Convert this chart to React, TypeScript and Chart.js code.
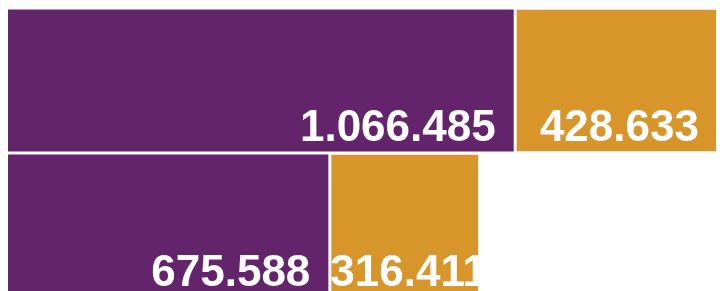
import React, { useEffect, useRef } from "react";
import { Chart, registerables } from "chart.js";

Chart.register(...registerables);

const categories = ["A", "B"];
const purpleValues = [1066485, 675588];
const orangeValues = [428633, 316411];
const purpleColor = "#64246B";
const orangeColor = "#D7952A";
const axisMax = 1510000;

const fmt = (v: number) => v.toLocaleString("de-DE");

const labelPlugin = {
  id: "barLabels",
  afterDatasetsDraw(chart: any) {
    const ctx = chart.ctx;
    const area = chart.chartArea;
    ctx.save();
    ctx.font = "bold 44px 'Liberation Sans', Arial, sans-serif";
    ctx.fillStyle = "#ffffff";
    ctx.textBaseline = "alphabetic";
    chart.data.datasets.forEach((ds: any, di: number) => {
      const meta = chart.getDatasetMeta(di);
      meta.data.forEach((bar: any, i: number) => {
        const text = fmt(ds.data[i]);
        const w = ctx.measureText(text).width;
        const props = bar.getProps(["x", "y", "base", "height"], true);
        const right = Math.min(props.x, area.right) - 18;
        const left = Math.min(props.x, props.base) + 2;
        const bottom = props.y + props.height / 2;
        let x = right - w;
        if (x < left) x = left;
        ctx.textAlign = "left";
        ctx.fillText(text, x, bottom - 11);
      });
    });
    ctx.restore();
  },
};

export default function App() {
  const ref = useRef<HTMLCanvasElement | null>(null);
  useEffect(() => {
    if (!ref.current) return;
    const chart = new Chart(ref.current, {
      type: "bar",
      data: {
        labels: categories,
        datasets: [
          {
            data: purpleValues,
            backgroundColor: purpleColor,
            borderWidth: 0,
            barPercentage: 142 / 145,
            categoryPercentage: 1,
          },
          {
            data: orangeValues,
            backgroundColor: orangeColor,
            borderColor: "#ffffff",
            borderWidth: { left: 3, right: 0, top: 0, bottom: 0 },
            borderSkipped: false,
            barPercentage: 142 / 145,
            categoryPercentage: 1,
          },
        ],
      },
      options: {
        indexAxis: "y",
        animation: false,
        responsive: false,
        maintainAspectRatio: false,
        layout: { padding: 0 },
        plugins: {
          legend: { display: false },
          tooltip: { enabled: false },
        },
        scales: {
          x: { stacked: true, display: false, min: 0, max: axisMax },
          y: { stacked: true, display: false },
        },
      },
      plugins: [labelPlugin],
    });
    return () => chart.destroy();
  }, []);
  return (
    <div style={{ width: 716, height: 290 }}>
      <canvas ref={ref} width={716} height={290} style={{ display: "block" }} />
    </div>
  );
}
